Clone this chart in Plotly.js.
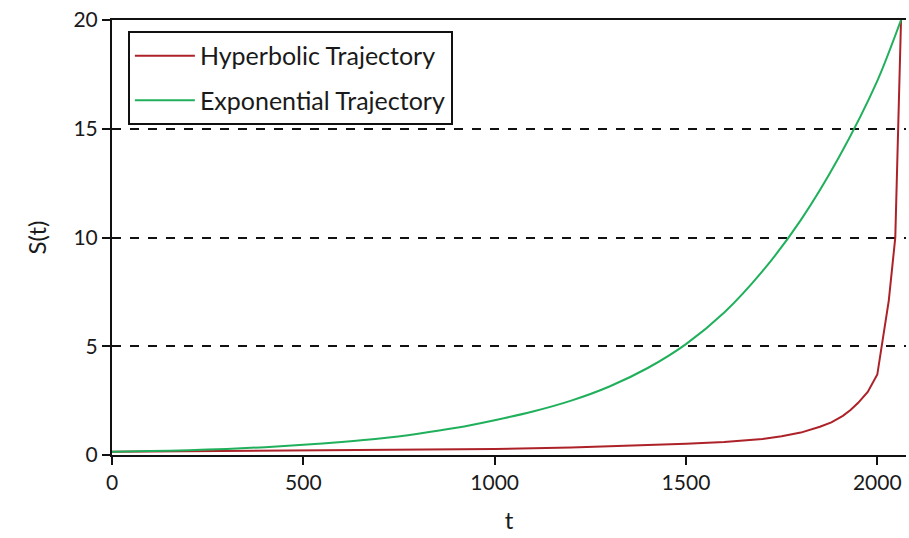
<!DOCTYPE html>
<html>
<head>
<meta charset="utf-8">
<script src="https://cdn.plot.ly/plotly-3.0.1.min.js"></script>
<style>html,body{margin:0;padding:0;background:#fff;}#chart{width:909px;height:538px;}</style>
</head>
<body>
<div id="chart"></div>
<script>
// Hyperbolic trajectory
const hypT = [0, 200, 400, 600, 800, 1000, 1200, 1400, 1500, 1600, 1700, 1750, 1800, 1850, 1880, 1910, 1930, 1950, 1975, 2000, 2012, 2030, 2047, 2054, 2062];
const hypS = [0.15, 0.17, 0.19, 0.21, 0.24, 0.28, 0.34, 0.44, 0.52, 0.6, 0.74, 0.86, 1.03, 1.3, 1.5, 1.8, 2.07, 2.4, 2.9, 3.7, 5.0, 7.1, 10.0, 15.0, 20.0];
// Exponential trajectory
const expT = [0, 100, 200, 300, 400, 500, 600, 700, 800, 900, 1000, 1100, 1200, 1300, 1400, 1500, 1600, 1700, 1800, 1900, 2000, 2062];
const expS = [0.15, 0.18, 0.22, 0.28, 0.36, 0.47, 0.6, 0.76, 0.98, 1.25, 1.6, 2.0, 2.5, 3.15, 4.0, 5.1, 6.55, 8.45, 10.8, 13.7, 17.2, 20.0];
const xTicks = [0, 500, 1000, 1500, 2000];
const yTicks = [0, 5, 10, 15, 20];
const names = ["Hyperbolic Trajectory", "Exponential Trajectory"];

const font = "Lato, 'Open Sans', sans-serif";
const data = [
  {x: hypT, y: hypS, mode: "lines", name: names[0], legendgroup: "a",
   line: {color: "#AC2228", width: 2}},
  {x: expT, y: expS, mode: "lines", name: names[1], legendgroup: "b",
   line: {color: "#20B05C", width: 2, shape: "spline", smoothing: 0.8}}
];
const layout = {
  width: 909, height: 538,
  margin: {l: 112, r: 3, t: 20, b: 83},
  paper_bgcolor: "#fff", plot_bgcolor: "#fff",
  font: {family: font, size: 21, color: "#1a1a1a"},
  showlegend: true,
  legend: {
    x: 0.02, y: 0.975, xanchor: "left", yanchor: "top",
    bgcolor: "#fff", bordercolor: "#111", borderwidth: 2,
    font: {family: font, size: 25, color: "#1a1a1a"},
    itemwidth: 60,
    tracegroupgap: 9
  },
  xaxis: {
    range: [0, 2075], tickvals: xTicks, ticktext: xTicks.map(String),
    showgrid: false, zeroline: false,
    showline: true, linecolor: "#111", linewidth: 2, mirror: true,
    ticks: "outside", ticklen: 8, tickwidth: 2, tickcolor: "#111",
    tickfont: {family: font, size: 21, color: "#1a1a1a"},
    title: {text: "t", font: {family: font, size: 24, color: "#1a1a1a"}, standoff: 19}
  },
  yaxis: {
    range: [0, 20], tickvals: yTicks, ticktext: yTicks.map(String),
    showgrid: true, gridcolor: "#111", gridwidth: 2, griddash: "dash",
    zeroline: false,
    showline: true, linecolor: "#111", linewidth: 2,
    ticks: "outside", ticklen: 8, tickwidth: 2, tickcolor: "#111",
    tickfont: {family: font, size: 21, color: "#1a1a1a"},
    title: {text: "S(t)", font: {family: font, size: 24, color: "#1a1a1a"}, standoff: 20}
  }
};
Plotly.newPlot("chart", data, layout, {displayModeBar: false, staticPlot: true});
</script>
</body>
</html>
